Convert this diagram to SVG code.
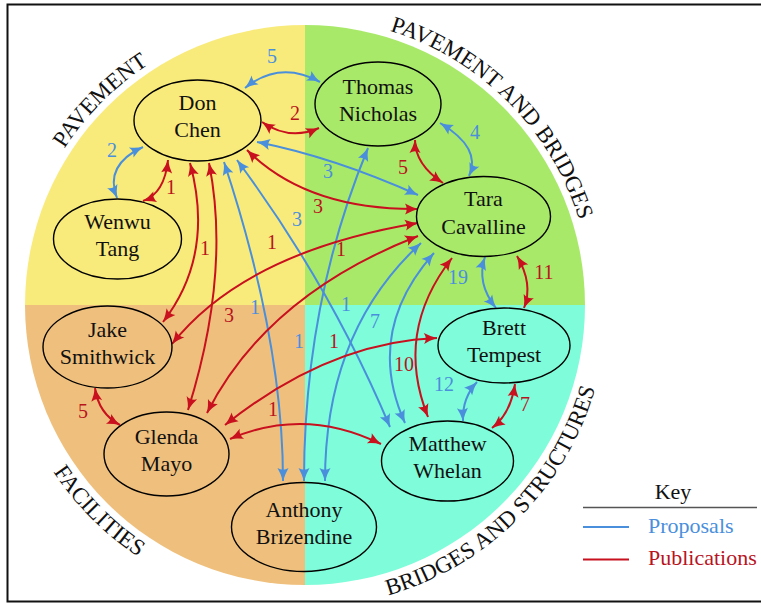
<svg xmlns="http://www.w3.org/2000/svg" width="761" height="603" viewBox="0 0 761 603">
<style>
.node ellipse{fill:none;stroke:#000;stroke-width:1.4}
.node text{font-family:"Liberation Serif","Times New Roman",serif;font-size:22px;text-anchor:middle;fill:#111}
.b{fill:none;stroke:#4a8fdc;stroke-width:2;marker-start:url(#ab);marker-end:url(#ab)}
.r{fill:none;stroke:#c8101e;stroke-width:2;marker-start:url(#ar);marker-end:url(#ar)}
.lb,.lr{font-family:"Liberation Serif","Times New Roman",serif;font-size:20px;text-anchor:middle}
.lb{fill:#4a8fdc}
.lr{fill:#b8141e}
.region{font-family:"Liberation Serif","Times New Roman",serif;font-size:23px;fill:#111}
.key{font-family:"Liberation Serif","Times New Roman",serif;font-size:22px}
</style>
<defs>
<marker id="ab" markerUnits="userSpaceOnUse" markerWidth="14" markerHeight="12" refX="13" refY="6" orient="auto-start-reverse" overflow="visible"><path d="M0,0.5 Q6,4 13,6 Q6,8 0,11.5 Q3.5,6 0,0.5 Z" fill="#4a8fdc"/></marker>
<marker id="ar" markerUnits="userSpaceOnUse" markerWidth="14" markerHeight="12" refX="13" refY="6" orient="auto-start-reverse" overflow="visible"><path d="M0,0.5 Q6,4 13,6 Q6,8 0,11.5 Q3.5,6 0,0.5 Z" fill="#c8101e"/></marker>
<path id="arcTL" d="M18,305 A287,287 0 0 1 305,18"/>
<path id="arcTR" d="M305,18 A287,287 0 0 1 592,305"/>
<path id="arcBL" d="M3,305 A302,302 0 0 0 305,607"/>
<path id="arcBR" d="M305,607 A302,302 0 0 0 607,305"/>
</defs>
<rect x="0" y="0" width="761" height="603" fill="#fff"/>
<rect x="7.5" y="4.5" width="780" height="597" fill="none" stroke="#111" stroke-width="2"/>
<g id="regions">
<path d="M305,305 L25,305 A280,280 0 0 1 305,25 Z" fill="#f9eb7b"/>
<path d="M305,305 L305,25 A280,280 0 0 1 585,305 Z" fill="#a9e96a"/>
<path d="M305,305 L585,305 A280,280 0 0 1 305,585 Z" fill="#7ffcd9"/>
<path d="M305,305 L305,585 A280,280 0 0 1 25,305 Z" fill="#efc07d"/>
<text class="region"><textPath href="#arcTL" startOffset="50%" text-anchor="middle">PAVEMENT</textPath></text>
<text class="region"><textPath href="#arcTR" startOffset="50%" text-anchor="middle">PAVEMENT AND BRIDGES</textPath></text>
<text class="region"><textPath href="#arcBL" startOffset="50%" text-anchor="middle">FACILITIES</textPath></text>
<text class="region"><textPath href="#arcBR" startOffset="50%" text-anchor="middle">BRIDGES AND STRUCTURES</textPath></text>
</g>
<g id="connectors">
<path class="b" d="M245,88 Q280,60 320,82"/>
<path class="b" d="M143,147 Q104,165 117,198"/>
<path class="b" d="M440,123 Q482,148 469,176"/>
<path class="b" d="M257,142 Q333,157 418,195"/>
<path class="b" d="M485,257 Q476,283 496,308"/>
<path class="b" d="M477,382 Q462,398 463,421"/>
<path class="b" d="M224,162 Q283,340 283,481"/>
<path class="b" d="M368,148 Q304,303 304,481"/>
<path class="b" d="M421,243 Q325,331 325,481"/>
<path class="b" d="M434,253 Q364,332 405,423"/>
<path class="b" d="M237,160 Q330,285 390,427"/>
<path class="r" d="M262,122 Q289.5,141 319,128"/>
<path class="r" d="M168,160 Q164.5,193.5 143,201"/>
<path class="r" d="M415,140 Q415,164.5 443,183"/>
<path class="r" d="M247,150 Q307,210 418,209"/>
<path class="r" d="M190,163 Q215,255 163,322"/>
<path class="r" d="M209,163 Q231,273 188,410"/>
<path class="r" d="M418,223 Q245,252 172,344"/>
<path class="r" d="M418,236 Q267,295 207,413"/>
<path class="r" d="M517,256 Q533.5,284 524,308"/>
<path class="r" d="M452,258 Q394,332 428,417"/>
<path class="r" d="M515,384 Q510.5,414 492,428"/>
<path class="r" d="M95,388 Q98.5,413.5 120,425"/>
<path class="r" d="M230,439 Q304.5,406.5 381,444"/>
<path class="r" d="M225,425 Q329,342 437,338"/>
</g>
<g id="edge-labels">
<text class="lb" x="272" y="63">5</text>
<text class="lb" x="112" y="157">2</text>
<text class="lb" x="328" y="178">3</text>
<text class="lb" x="297" y="226">3</text>
<text class="lb" x="475" y="139">4</text>
<text class="lb" x="458" y="284">19</text>
<text class="lb" x="255" y="314">1</text>
<text class="lb" x="299" y="348">1</text>
<text class="lb" x="346" y="311">1</text>
<text class="lb" x="375" y="328">7</text>
<text class="lb" x="444" y="391">12</text>
<text class="lr" x="171" y="194">1</text>
<text class="lr" x="295" y="120">2</text>
<text class="lr" x="318" y="213">3</text>
<text class="lr" x="205" y="255">1</text>
<text class="lr" x="272" y="249">1</text>
<text class="lr" x="341" y="256">1</text>
<text class="lr" x="403" y="174">5</text>
<text class="lr" x="544" y="279">11</text>
<text class="lr" x="229" y="322">3</text>
<text class="lr" x="334" y="348">1</text>
<text class="lr" x="83" y="418">5</text>
<text class="lr" x="273" y="416">1</text>
<text class="lr" x="404" y="371">10</text>
<text class="lr" x="525" y="411">7</text>
</g>
<g id="don-chen" class="node"><ellipse cx="197.5" cy="120.5" rx="63.5" ry="40.5"/><text x="197.5" y="110">Don</text><text x="197.5" y="137">Chen</text></g>
<g id="wenwu-tang" class="node"><ellipse cx="117.5" cy="239" rx="64" ry="40"/><text x="117.5" y="229">Wenwu</text><text x="117.5" y="256">Tang</text></g>
<g id="thomas-nicholas" class="node"><ellipse cx="378" cy="104" rx="63" ry="42"/><text x="378" y="94">Thomas</text><text x="378" y="121">Nicholas</text></g>
<g id="tara-cavalline" class="node"><ellipse cx="483.5" cy="216.5" rx="67" ry="40"/><text x="483.5" y="206">Tara</text><text x="483.5" y="234">Cavalline</text></g>
<g id="jake-smithwick" class="node"><ellipse cx="107.5" cy="347" rx="64.5" ry="41"/><text x="107.5" y="337">Jake</text><text x="107.5" y="364">Smithwick</text></g>
<g id="glenda-mayo" class="node"><ellipse cx="166.5" cy="454" rx="62.5" ry="42"/><text x="166.5" y="444">Glenda</text><text x="166.5" y="471">Mayo</text></g>
<g id="anthony-brizendine" class="node"><ellipse cx="304" cy="527" rx="72.5" ry="44.5"/><text x="304" y="517">Anthony</text><text x="304" y="544">Brizendine</text></g>
<g id="brett-tempest" class="node"><ellipse cx="504" cy="345.5" rx="66" ry="37.5"/><text x="504" y="335">Brett</text><text x="504" y="362">Tempest</text></g>
<g id="matthew-whelan" class="node"><ellipse cx="447.5" cy="461" rx="66" ry="40"/><text x="447.5" y="451">Matthew</text><text x="447.5" y="478">Whelan</text></g>
<g id="key">
<text class="key" x="673" y="499" text-anchor="middle" fill="#111">Key</text>
<line x1="583" y1="507.5" x2="757" y2="507.5" stroke="#555" stroke-width="1.3"/>
<line x1="583" y1="527" x2="629" y2="527" stroke="#4a8fdc" stroke-width="2"/>
<text class="key" x="648" y="533" fill="#4a8fdc">Proposals</text>
<line x1="583" y1="559.5" x2="629" y2="559.5" stroke="#c8101e" stroke-width="2"/>
<text class="key" x="648" y="565" fill="#b8141e">Publications</text>
</g>
</svg>
